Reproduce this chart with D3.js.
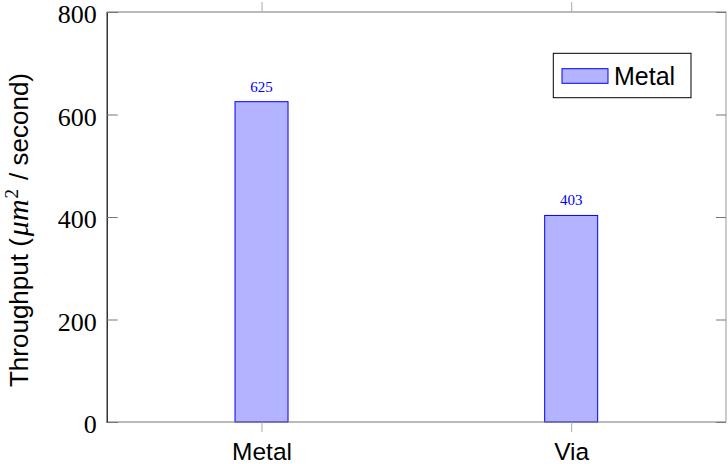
<!DOCTYPE html>
<html>
<head>
<meta charset="utf-8">
<script src="https://cdn.jsdelivr.net/npm/d3@7"></script>
<style>
  html, body { margin: 0; padding: 0; background: #fff; }
  svg { display: block; }
</style>
</head>
<body>
<svg id="chart" width="728" height="464"></svg>
<script>
// Throughput per layer type
const categories = ["Metal", "Via"];
const throughput = [625, 403];
const yTicks = [0, 200, 400, 600, 800];
const seriesName = "Metal";

const W = 728, H = 464;
const margin = { left: 106.7, right: 2, top: 12, bottom: 42 };
const x0 = margin.left, x1 = W - margin.right;
const y0 = H - margin.bottom, y1 = margin.top;

const svg = d3.select("#chart");

const x = d3.scalePoint().domain(categories).range([x0, x1]).padding(0.5);
const y = d3.scaleLinear().domain([0, 800]).range([y0, y1]);

const barW = 53;
const fill = "#b3b3ff", stroke = "#0000ff";
const serif = "Liberation Serif";
const sans = "Liberation Sans";

// Bars
svg.append("g").selectAll("rect")
  .data(categories)
  .join("rect")
  .attr("x", (d) => x(d) - barW / 2)
  .attr("y", (d, i) => y(throughput[i]))
  .attr("width", barW)
  .attr("height", (d, i) => y(0) - y(throughput[i]))
  .attr("fill", fill)
  .attr("stroke", stroke)
  .attr("stroke-width", 1);

// Value labels above bars
svg.append("g").selectAll("text")
  .data(categories)
  .join("text")
  .attr("x", (d) => x(d))
  .attr("y", (d, i) => y(throughput[i]) - 10)
  .attr("text-anchor", "middle")
  .style("font-family", serif)
  .style("font-size", "15px")
  .attr("fill", stroke)
  .text((d, i) => throughput[i]);

// Frame: top, right, bottom in gray, left in black
const frameGray = "#777";
svg.append("line").attr("x1", x0).attr("x2", x1).attr("y1", y1).attr("y2", y1)
  .attr("stroke", frameGray).attr("stroke-width", 1.2);
svg.append("line").attr("x1", x0).attr("x2", x1).attr("y1", y0).attr("y2", y0)
  .attr("stroke", frameGray).attr("stroke-width", 1.2);
svg.append("line").attr("x1", x1).attr("x2", x1).attr("y1", y1).attr("y2", y0)
  .attr("stroke", "#999").attr("stroke-width", 1);

// Left axis with inward ticks
const yAxis = d3.axisLeft(y).tickValues(yTicks).tickSize(-11).tickPadding(10);
const gy = svg.append("g").attr("transform", `translate(${x0},0)`).call(yAxis);
gy.attr("font-family", serif).attr("font-size", 26);
gy.select(".domain").attr("stroke", "#000").attr("stroke-width", 1.2);
gy.selectAll(".tick line").attr("stroke", frameGray);
gy.selectAll(".tick text")
  .style("font-family", serif).style("font-size", "26px").attr("fill", "#000")
  .attr("dy", "0.42em");

// Right side ticks, inward
const yAxisR = d3.axisRight(y).tickValues(yTicks).tickSize(-10).tickFormat("");
const gyr = svg.append("g").attr("transform", `translate(${x1},0)`).call(yAxisR);
gyr.select(".domain").remove();
gyr.selectAll(".tick line").attr("stroke", frameGray);

// Bottom axis with outward ticks
const xAxis = d3.axisBottom(x).tickSize(10).tickPadding(11);
const gx = svg.append("g").attr("transform", `translate(0,${y0})`).call(xAxis);
gx.attr("font-family", sans).attr("font-size", 24.5);
gx.select(".domain").remove();
gx.selectAll(".tick line").attr("stroke", "#aaa");
gx.selectAll(".tick text")
  .style("font-family", sans).style("font-size", "24.5px").attr("fill", "#000");

// Top ticks, outward
const xAxisT = d3.axisTop(x).tickSize(10).tickFormat("");
const gxt = svg.append("g").attr("transform", `translate(0,${y1})`).call(xAxisT);
gxt.select(".domain").remove();
gxt.selectAll(".tick line").attr("stroke", "#aaa");

// Y axis title
const yt = svg.append("text")
  .attr("transform", `translate(28,${(y0 + y1) / 2 + 13}) rotate(-90)`)
  .attr("text-anchor", "middle")
  .style("font-family", sans).style("font-size", "26px").attr("fill", "#000");
yt.append("tspan").text("Throughput (");
yt.append("tspan").style("font-family", serif).style("font-style", "italic")
  .style("font-size", "30px").attr("dx", 2).text("μm");
yt.append("tspan").style("font-family", serif).style("font-size", "19px")
  .attr("dx", 1).attr("dy", -10).text("2");
yt.append("tspan").attr("dy", 10).attr("dx", 9).text("/ second)");

// Legend
const lg = svg.append("g");
lg.append("rect").attr("x", 553.3).attr("y", 53.3).attr("width", 137.7).attr("height", 44.4)
  .attr("fill", "#fff").attr("stroke", "#000").attr("stroke-width", 1);
lg.append("rect").attr("x", 562).attr("y", 68.7).attr("width", 46).attr("height", 14.6)
  .attr("fill", fill).attr("stroke", stroke).attr("stroke-width", 1);
lg.append("text").attr("x", 614).attr("y", 84.5)
  .style("font-family", sans).style("font-size", "25px").attr("fill", "#000")
  .text(seriesName);
</script>
</body>
</html>
